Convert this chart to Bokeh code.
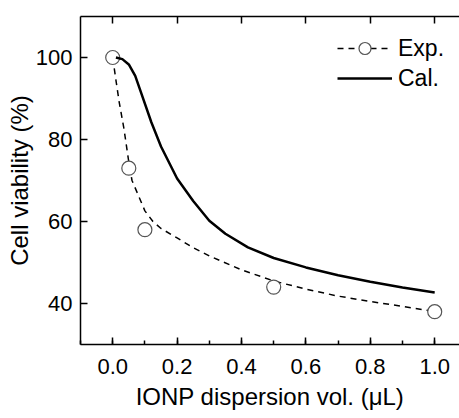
from bokeh.plotting import figure
from bokeh.models import (Range1d, LinearAxis, SingleIntervalTicker, PrintfTickFormatter,
                          Legend, LegendItem, CustomJSTickFormatter)
from bokeh.embed import file_html
from bokeh.resources import INLINE

# Experimental points
exp_x = [0.0, 0.05, 0.1, 0.5, 1.0]
exp_y = [100, 73, 58, 44, 38]

# Fitted curve through experimental data (dashed)
fit_x = [0.0, 0.01, 0.02, 0.035, 0.05, 0.06, 0.08, 0.1, 0.125, 0.15, 0.2, 0.25, 0.3, 0.4, 0.5, 0.6, 0.7, 0.8, 0.9, 1.0]
fit_y = [100, 94.5, 89.2, 82.6, 74.5, 70.0, 66.3, 62.6, 60.0, 58.3, 56.0, 53.6, 51.6, 48.2, 45.5, 43.5, 41.8, 40.5, 39.3, 38.0]

# Calculated curve (solid)
cal_x = [0.01, 0.03, 0.05, 0.07, 0.09, 0.12, 0.15, 0.2, 0.25, 0.3, 0.35, 0.42, 0.5, 0.6, 0.7, 0.8, 0.9, 1.0]
cal_y = [100, 99.6, 98.3, 95.5, 91.0, 84.2, 78.3, 70.5, 65.0, 60.2, 57.0, 53.7, 51.1, 48.8, 46.9, 45.3, 43.9, 42.7]

x_label = "IONP dispersion vol. (μL)"
y_label = "Cell viability (%)"
FONT = "Liberation Sans"

p = figure(width=459, height=418, x_range=Range1d(-0.1, 1.077), y_range=Range1d(30, 110),
           output_backend="svg", toolbar_location=None,
           min_border_left=80, min_border_right=0, min_border_top=16, min_border_bottom=74)
p.outline_line_color = None
p.grid.visible = False
p.background_fill_color = "white"

fit_r = p.line(fit_x, fit_y, line_color="black", line_width=1.5, line_dash="6 5")
exp_r = p.scatter(exp_x, exp_y, marker="circle", size=14, fill_color="white",
                  line_color="#555555", line_width=1.2)
cal_r = p.line(cal_x, cal_y, line_color="black", line_width=2.5)

# bottom axis
xa = p.xaxis[0]
xa.ticker = SingleIntervalTicker(interval=0.2, num_minor_ticks=2)
xa.formatter = PrintfTickFormatter(format="%.1f")
xa.axis_label = x_label
# y axis
ya = p.yaxis[0]
ya.ticker = SingleIntervalTicker(interval=20)
ya.formatter = PrintfTickFormatter(format="%d")
ya.minor_tick_line_color = None
ya.axis_label = y_label

for ax in (xa, ya):
    ax.axis_line_width = 1.5
    ax.major_tick_line_width = 1.5
    ax.minor_tick_line_width = 1.5
    ax.major_tick_in = 7
    ax.major_tick_out = 0
    ax.minor_tick_in = 4
    ax.minor_tick_out = 0
    ax.major_label_text_font = FONT
    ax.major_label_text_font_size = "22px"
    ax.major_label_text_color = "black"
    ax.axis_label_text_font = FONT
    ax.axis_label_text_font_size = "24px"
    ax.axis_label_text_font_style = "normal"
    ax.axis_label_text_color = "black"
xa.major_label_standoff = 14
xa.axis_label_standoff = 6
ya.major_label_standoff = 8
ya.axis_label_standoff = 0

# top axis (ticks only)
top = LinearAxis(ticker=SingleIntervalTicker(interval=0.2, num_minor_ticks=0),
                 formatter=CustomJSTickFormatter(code="return ''"),
                 major_label_text_font_size="0px", major_label_standoff=0,
                 axis_line_width=1.5, major_tick_line_width=1.5,
                 major_tick_in=7, major_tick_out=0, minor_tick_line_color=None)
p.add_layout(top, "above")

legend = Legend(items=[LegendItem(label="Exp.", renderers=[fit_r, exp_r]),
                       LegendItem(label="Cal.", renderers=[cal_r])],
                location=(257, 251), glyph_width=55, glyph_height=30, label_height=30,
                label_standoff=6, spacing=0, padding=0, margin=0,
                border_line_color=None, background_fill_alpha=0,
                label_text_font=FONT, label_text_font_size="23px", label_text_color="black")
p.add_layout(legend)

open("out.html", "w").write(file_html(p, INLINE))
